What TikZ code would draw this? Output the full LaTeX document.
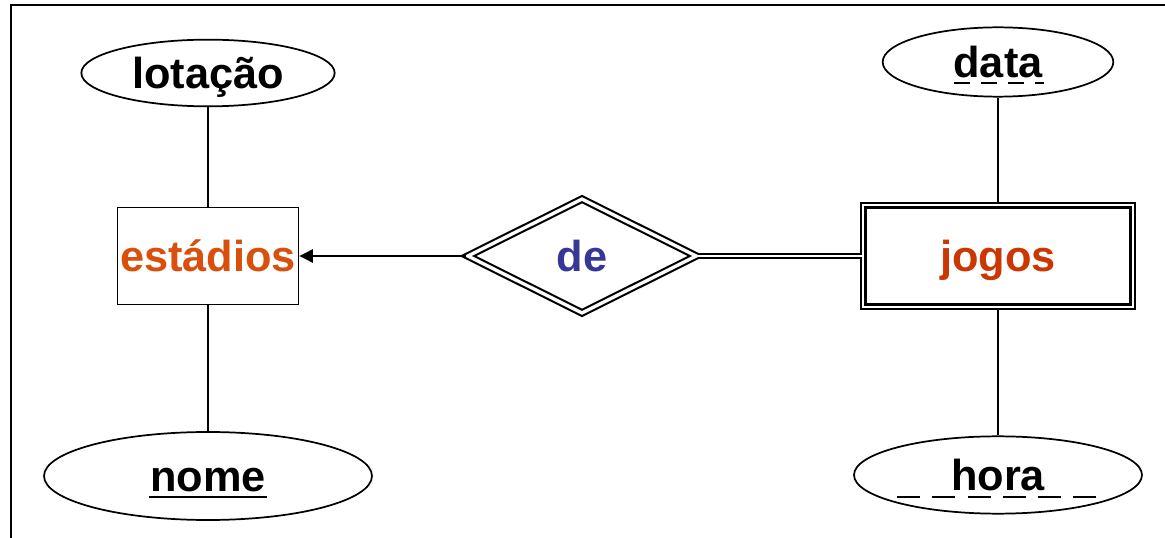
\documentclass[tikz,border=0pt]{standalone}
\usepackage{fontspec}
\setmainfont{Liberation Sans}
\usetikzlibrary{arrows.meta, shapes.geometric, calc}

\definecolor{entorange}{RGB}{216,80,12}
\definecolor{weakred}{RGB}{204,54,0}
\definecolor{relblue}{RGB}{55,55,150}

\begin{document}
\begin{tikzpicture}[>={Triangle[length=10pt, width=10pt]}, x=0.75pt, y=-0.75pt,
    every node/.style={font=\fontsize{32.5}{38}\selectfont\bfseries, text height=26pt, text depth=2pt},
    attr/.style={ellipse, draw, line width=1.3pt, inner sep=0pt},
    entity/.style={rectangle, draw, line width=1.2pt, inner xsep=0pt, minimum width=136pt, minimum height=73pt},
    weakentity/.style={rectangle, draw, line width=1.6pt, double, double distance=1.6pt, minimum width=202pt, minimum height=76pt},
    weakrel/.style={diamond, draw, line width=1.6pt, double, double distance=2.5pt, minimum width=172pt, minimum height=86pt, inner sep=0pt},
    link/.style={line width=0.9pt},
    keyline/.style={line width=1.6pt}]

    \useasboundingbox (0,0) rectangle (1165,538);

    % Frame
    \draw[line width=1.5pt] (11,540) -- (11,5) -- (1167,5);

    % Entities and relationship
    \node[entity, text=entorange] (estadios) at (208,256) {estádios};
    \node[weakrel, text=relblue] (de) at (582,256) {de};
    \node[weakentity, text=weakred] (jogos) at (998,256) {jogos};

    % Attributes
    \node[attr, minimum width=190pt, minimum height=50pt] (lotacao) at (208,73) {lotação};
    \node[attr, minimum width=246pt, minimum height=66pt] (nome) at (208,476) {nome};
    \node[attr, minimum width=173pt, minimum height=52pt] (data) at (998,62) {data};
    \node[attr, minimum width=216pt, minimum height=58pt] (hora) at (998,475) {hora};

    % Keys
    \draw[keyline] ($(nome.center)+(-59,21)$) -- ($(nome.center)+(59,21)$);
    \draw[keyline, dash pattern=on 12pt off 8.25pt] ($(data.center)+(-44,21)$) -- ($(data.center)+(46,21)$);
    \draw[keyline, dash pattern=on 17.25pt off 9.2pt] ($(hora.center)+(-101,22)$) -- ($(hora.center)+(100,22)$);

    % Links
    \draw[link] (lotacao) -- (estadios);
    \draw[link] (estadios) -- (nome);
    \draw[link] (data) -- (jogos);
    \draw[link] (jogos) -- (hora);
    \draw[link, ->] (de) -- (estadios);
    \draw[link, line width=1.2pt, double, double distance=2.2pt] (de) -- (jogos);
\end{tikzpicture}
\end{document}
